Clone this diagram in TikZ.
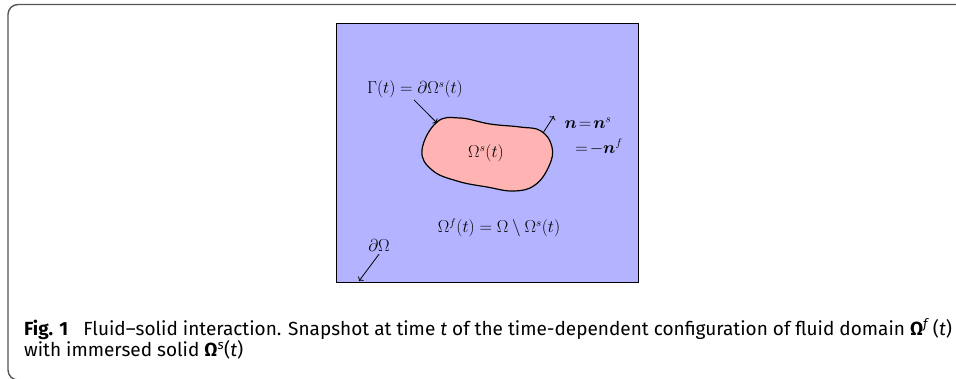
\documentclass[tikz,border=0pt]{standalone}
\usepackage{amsmath}
\usepackage{amssymb}
\usepackage{bm}
\usepackage{fontspec}
\newfontfamily\captionfont{Fira Sans}
\usepackage{xcolor}
\usepackage{tikz}
\usetikzlibrary{positioning, arrows.meta, calc}
\definecolor{fsifluid}{RGB}{179,179,255}
\definecolor{fsisolid}{RGB}{255,179,179}
\definecolor{fsiframe}{HTML}{555555}

\begin{document}
\begin{tikzpicture}[x=1pt, y=-1pt,
    mathlabel/.style={font=\fontsize{16}{19}\selectfont, inner sep=0pt},
    pointer/.style={->, line width=0.8pt},
    captext/.style={font=\captionfont\fontsize{19}{21}\selectfont, anchor=base west, inner sep=0pt},
]
\useasboundingbox (0,0) rectangle (956,378);

% Outer frame (top and left side only)
\draw[fsiframe, line width=1.4pt, rounded corners=10pt] (20,380) -- (8,380) -- (8,4.5) -- (960,4.5);

% Fluid domain
\draw[fill=fsifluid, line width=0.8pt] (336,23) rectangle (638,282);
\coordinate (corner) at (359,281);

% Solid body
\draw[fill=fsisolid, line width=1.2pt] plot[smooth cycle, tension=0.7] coordinates {
  (437,122) (460,118) (490,124) (520,127) (541,131) (552,147)
  (549,166) (535,185) (514,191) (487,187) (457,181) (432,170) (422,150)};
\coordinate (gammapt) at (437,123);
\coordinate (normalbase) at (543,133);
\coordinate (normaltip) at (554,116);

% Labels
\node[mathlabel] (solid) at (486,153) {$\Omega^s(t)$};
\node[mathlabel] (gamma) at (415,89) {$\Gamma(t) = \partial\Omega^s(t)$};
\node[mathlabel] (fluid) at (499,228) {$\Omega^f(t) = \Omega \setminus \Omega^s(t)$};
\node[mathlabel] (boundary) at (379,245) {$\partial\Omega$};
\node[mathlabel] (normal) at (588,123) {$\bm{n}\!=\!\bm{n}^s$};
\node[mathlabel] (normalf) at (599,147) {$=\!-\bm{n}^f$};

% Pointers
\draw[pointer] (gamma.south) ++(-1,2) -- (gammapt);
\draw[pointer] (normalbase) -- (normaltip);
\draw[pointer] (boundary.south) ++(0,3) -- (corner);

% Caption
\node[captext] (capone) at (24,335) {\textbf{Fig. 1}\hspace{0.8em}Fluid–solid interaction. Snapshot at time \textit{t} of the time-dependent configuration of fluid domain \textbf{Ω}\textsuperscript{\textit{f}}\,(\textit{t})};
\node[captext] (captwo) at (24,356) {with immersed solid \textbf{Ω}\textsuperscript{\textit{s}}(\textit{t})};

\end{tikzpicture}
\end{document}
